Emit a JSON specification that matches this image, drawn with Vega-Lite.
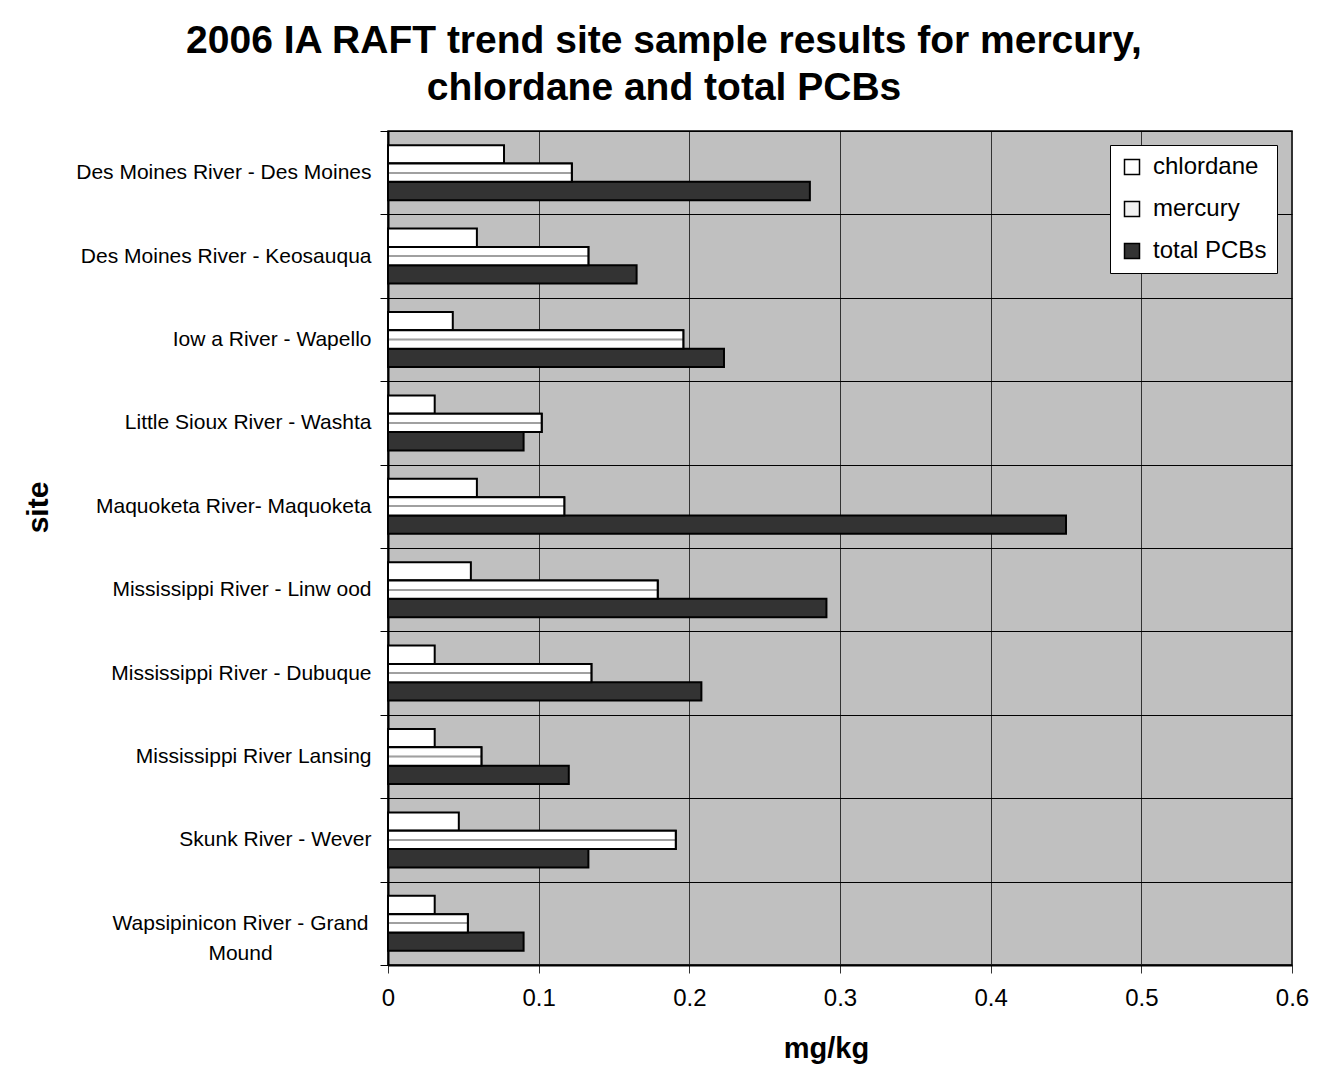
{
  "$schema": "https://vega.github.io/schema/vega-lite/v6.json",
  "width": 904,
  "height": 834,
  "autosize": {"type": "none"},
  "padding": {"left": 388, "top": 131, "right": 35, "bottom": 109},
  "background": "white",
  "title": {
    "text": ["2006 IA RAFT trend site sample results for mercury,", "chlordane and total PCBs"],
    "font": "Liberation Sans",
    "fontSize": 39,
    "fontWeight": "bold",
    "color": "black",
    "anchor": "middle",
    "frame": "group",
    "dx": -176,
    "dy": 48,
    "lineHeight": 47,
    "baseline": "alphabetic",
    "offset": 29
  },
  "data": {
    "values": [
      {"site": "Des Moines River - Des Moines", "analyte": "chlordane", "value": 0.077},
      {"site": "Des Moines River - Des Moines", "analyte": "mercury", "value": 0.122},
      {"site": "Des Moines River - Des Moines", "analyte": "total PCBs", "value": 0.28},
      {"site": "Des Moines River - Keosauqua", "analyte": "chlordane", "value": 0.059},
      {"site": "Des Moines River - Keosauqua", "analyte": "mercury", "value": 0.133},
      {"site": "Des Moines River - Keosauqua", "analyte": "total PCBs", "value": 0.165},
      {"site": "Iow a River - Wapello", "analyte": "chlordane", "value": 0.043},
      {"site": "Iow a River - Wapello", "analyte": "mercury", "value": 0.196},
      {"site": "Iow a River - Wapello", "analyte": "total PCBs", "value": 0.223},
      {"site": "Little Sioux River - Washta", "analyte": "chlordane", "value": 0.031},
      {"site": "Little Sioux River - Washta", "analyte": "mercury", "value": 0.102},
      {"site": "Little Sioux River - Washta", "analyte": "total PCBs", "value": 0.09},
      {"site": "Maquoketa River- Maquoketa", "analyte": "chlordane", "value": 0.059},
      {"site": "Maquoketa River- Maquoketa", "analyte": "mercury", "value": 0.117},
      {"site": "Maquoketa River- Maquoketa", "analyte": "total PCBs", "value": 0.45},
      {"site": "Mississippi River - Linw ood", "analyte": "chlordane", "value": 0.055},
      {"site": "Mississippi River - Linw ood", "analyte": "mercury", "value": 0.179},
      {"site": "Mississippi River - Linw ood", "analyte": "total PCBs", "value": 0.291},
      {"site": "Mississippi River - Dubuque", "analyte": "chlordane", "value": 0.031},
      {"site": "Mississippi River - Dubuque", "analyte": "mercury", "value": 0.135},
      {"site": "Mississippi River - Dubuque", "analyte": "total PCBs", "value": 0.208},
      {"site": "Mississippi River Lansing", "analyte": "chlordane", "value": 0.031},
      {"site": "Mississippi River Lansing", "analyte": "mercury", "value": 0.062},
      {"site": "Mississippi River Lansing", "analyte": "total PCBs", "value": 0.12},
      {"site": "Skunk River - Wever", "analyte": "chlordane", "value": 0.047},
      {"site": "Skunk River - Wever", "analyte": "mercury", "value": 0.191},
      {"site": "Skunk River - Wever", "analyte": "total PCBs", "value": 0.133},
      {"site": "Wapsipinicon River - Grand Mound", "analyte": "chlordane", "value": 0.031},
      {"site": "Wapsipinicon River - Grand Mound", "analyte": "mercury", "value": 0.053},
      {"site": "Wapsipinicon River - Grand Mound", "analyte": "total PCBs", "value": 0.09}
    ]
  },
  "encoding": {
    "y": {
      "field": "site",
      "type": "nominal",
      "sort": null,
      "scale": {"paddingInner": 0, "paddingOuter": 0},
      "axis": {
        "tickBand": "extent",
        "grid": true,
        "gridColor": "black",
        "gridWidth": 1,
        "tickSize": 8,
        "tickColor": "black",
        "domainColor": "black",
        "domainWidth": 2,
        "labelFont": "Liberation Sans",
        "labelFontSize": 21,
        "labelColor": "black",
        "labelPadding": {"condition": {"test": "datum.value == 'Wapsipinicon River - Grand Mound'", "value": 140}, "value": 9},
        "labelAlign": {"condition": {"test": "datum.value == 'Wapsipinicon River - Grand Mound'", "value": "center"}, "value": "right"},
        "labelLimit": 0,
        "labelLineHeight": 30,
        "labelExpr": "datum.value == 'Wapsipinicon River - Grand Mound' ? ['Wapsipinicon River - Grand', 'Mound'] : datum.value",
        "title": "site",
        "titleFont": "Liberation Sans",
        "titleFontSize": 30,
        "titleFontWeight": "bold",
        "titleColor": "black",
        "titleAngle": -90,
        "titleAlign": "center",
        "titleBaseline": "alphabetic",
        "titleX": -341,
        "titleY": 376
      }
    },
    "yOffset": {
      "field": "analyte",
      "type": "nominal",
      "sort": ["chlordane", "mercury", "total PCBs"],
      "scale": {"domain": ["chlordane", "mercury", "total PCBs"], "paddingInner": 0, "paddingOuter": 0.775}
    },
    "x": {
      "field": "value",
      "type": "quantitative",
      "scale": {"domain": [0, 0.6], "nice": false},
      "axis": {
        "values": [0, 0.1, 0.2, 0.3, 0.4, 0.5, 0.6],
        "format": "~g",
        "grid": true,
        "gridColor": "#333333",
        "gridWidth": 1,
        "tickSize": 8,
        "tickColor": "#333333",
        "domainColor": "black",
        "domainWidth": 2,
        "labelFont": "Liberation Sans",
        "labelFontSize": 24,
        "labelColor": "black",
        "labelPadding": 13,
        "labelFlush": false,
        "title": "mg/kg",
        "titleFont": "Liberation Sans",
        "titleFontSize": 29,
        "titleFontWeight": "bold",
        "titleColor": "black",
        "titleBaseline": "alphabetic",
        "titleX": 438,
        "titleY": 92
      }
    }
  },
  "layer": [
    {
      "mark": {"type": "bar", "stroke": "black", "strokeWidth": 2},
      "encoding": {
        "fill": {
          "field": "analyte",
          "type": "nominal",
          "sort": ["chlordane", "mercury", "total PCBs"],
          "scale": {
            "domain": ["chlordane", "mercury", "total PCBs"],
            "range": ["white", "#f2f2f2", "#333333"]
          },
          "legend": {
            "title": null,
            "orient": "none",
            "legendX": 722,
            "legendY": 14,
            "fillColor": "white",
            "strokeColor": "black",
            "padding": 10,
            "symbolType": "square",
            "symbolSize": 225,
            "symbolStrokeColor": "black",
            "symbolStrokeWidth": 1.5,
            "labelFont": "Liberation Sans",
            "labelFontSize": 24,
            "labelColor": "black",
            "labelOffset": 9,
            "rowPadding": 18
          }
        }
      }
    },
    {
      "transform": [{"filter": "datum.analyte == 'mercury'"}],
      "mark": {
        "type": "bar",
        "stroke": "black",
        "strokeWidth": 2,
        "fill": {
          "gradient": "linear",
          "x1": 0, "y1": 0, "x2": 0, "y2": 1,
          "stops": [
            {"offset": 0, "color": "white"},
            {"offset": 0.44, "color": "white"},
            {"offset": 0.45, "color": "#a0a0a0"},
            {"offset": 0.55, "color": "#a0a0a0"},
            {"offset": 0.56, "color": "white"},
            {"offset": 1, "color": "white"}
          ]
        }
      }
    }
  ],
  "config": {
    "view": {"fill": "#c0c0c0", "stroke": "black", "strokeWidth": 1.5}
  }
}
